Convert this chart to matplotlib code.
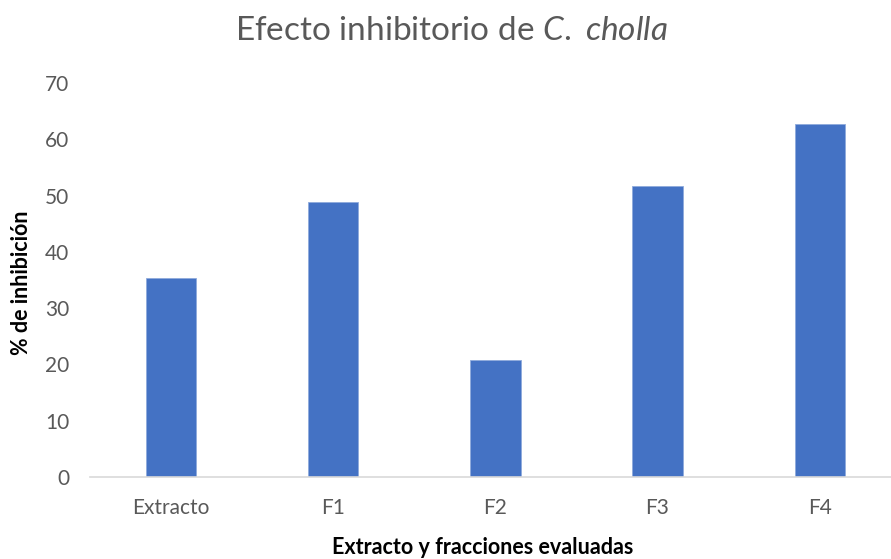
import matplotlib.pyplot as plt
from matplotlib import rcParams

rcParams.update({
    "font.family": ["Lato", "DejaVu Sans"],
    "mathtext.fontset": "custom",
    "mathtext.rm": "Lato",
    "mathtext.it": "Lato:italic",
})

# % de inhibición por extracto / fracción
categorias = ["Extracto", "F1", "F2", "F3", "F4"]
inhibicion = [35.3, 48.8, 20.8, 51.7, 62.7]

gris = "#595959"
azul = "#4472C4"

fig = plt.figure(figsize=(8.91, 5.59), dpi=100)
ax = fig.add_axes([0.101, 0.1467, 0.91, 0.7048])

ax.bar(range(len(categorias)), inhibicion, width=0.31, color=azul,
       edgecolor="#8FAADC", linewidth=0.6)

ax.set_xlim(-0.5, len(categorias) - 0.5)
ax.set_ylim(0, 70)
ax.set_yticks(range(0, 71, 10))
ax.set_xticks(range(len(categorias)))
ax.set_xticklabels(categorias)

for s in ["top", "right", "left"]:
    ax.spines[s].set_visible(False)
ax.spines["bottom"].set_color("#D9D9D9")
ax.spines["bottom"].set_linewidth(1.2)
ax.tick_params(axis="both", length=0, colors=gris, labelsize=15)
ax.tick_params(axis="y", pad=15)
ax.tick_params(axis="x", pad=15)

# etiquetas de ejes y título colocados en coordenadas de figura
fig.text(0.024, 0.494, "% de inhibición", rotation=90, ha="center", va="center",
         fontsize=15.5, fontweight="bold", color="black")
fig.text(0.542, 0.02, "Extracto y fracciones evaluadas", ha="center", va="center",
         fontsize=15.5, fontweight="bold", color="black")
fig.text(0.507, 0.945, r"Efecto inhibitorio de $\mathit{C.\ cholla}$",
         ha="center", va="center", fontsize=24, color=gris)

fig.savefig("out.png", dpi=100)
